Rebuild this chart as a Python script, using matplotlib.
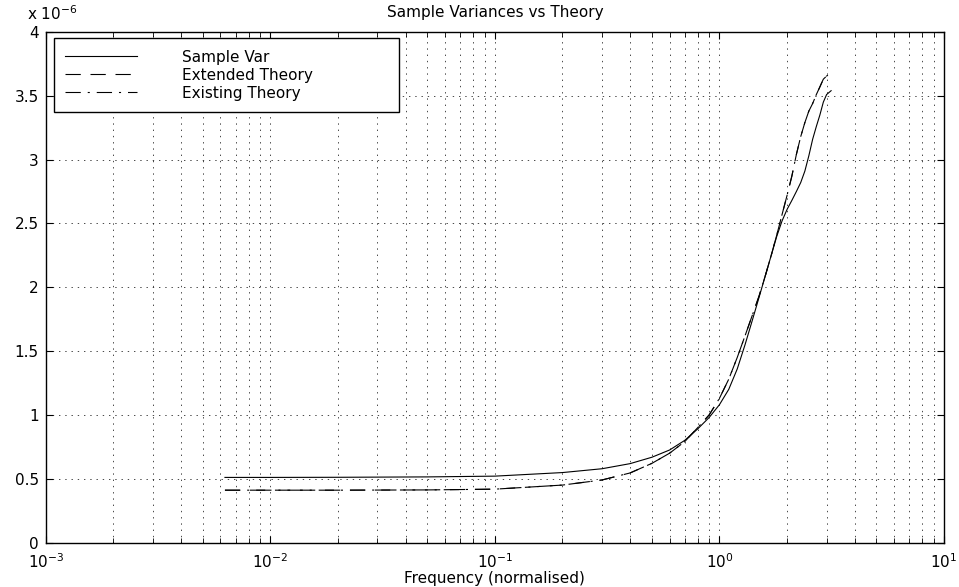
import matplotlib
matplotlib.use("Agg")
import matplotlib.pyplot as plt
from matplotlib.ticker import MultipleLocator, FuncFormatter, LogLocator, NullFormatter

plt.rcParams["font.family"] = "DejaVu Sans"
plt.rcParams["font.size"] = 11
plt.rcParams["lines.scale_dashes"] = False

# normalised frequency (rad/sample) and variances in units of 1e-6
freq = [0.00628, 0.01, 0.02, 0.05, 0.1, 0.2, 0.3, 0.4, 0.5, 0.6, 0.7, 0.8, 0.9,
        1.0, 1.1, 1.2, 1.3, 1.4, 1.5, 1.6, 1.7, 1.8, 1.9, 2.0, 2.1, 2.2, 2.3,
        2.4, 2.5, 2.6, 2.7, 2.8, 2.9, 3.0, 3.1416]
sampleVar = [0.510, 0.510, 0.511, 0.514, 0.520, 0.548, 0.578, 0.618, 0.668, 0.725,
             0.800, 0.890, 0.980, 1.08, 1.20, 1.36, 1.55, 1.74, 1.92, 2.09, 2.25,
             2.40, 2.52, 2.61, 2.68, 2.75, 2.82, 2.91, 3.03, 3.16, 3.26, 3.35,
             3.45, 3.51, 3.54]
extendedTheory = [0.410, 0.410, 0.410, 0.412, 0.418, 0.450, 0.490, 0.545, 0.620, 0.700,
                  0.790, 0.900, 1.00, 1.13, 1.28, 1.45, 1.62, 1.78, 1.93, 2.09, 2.25,
                  2.41, 2.57, 2.72, 2.87, 3.04, 3.18, 3.29, 3.38, 3.44, 3.51, 3.57,
                  3.63, 3.655, 3.677]
existingTheory = [0.410, 0.410, 0.410, 0.412, 0.418, 0.450, 0.490, 0.545, 0.620, 0.700,
                  0.790, 0.900, 1.00, 1.13, 1.28, 1.45, 1.62, 1.78, 1.93, 2.09, 2.25,
                  2.41, 2.57, 2.72, 2.87, 3.04, 3.18, 3.29, 3.38, 3.44, 3.51, 3.57,
                  3.63, 3.655, 3.677]
SCALE = 1e-6

fig = plt.figure(figsize=(9.59, 5.87), dpi=100)
ax = fig.add_axes([0.0477, 0.0758, 0.9367, 0.8697])

ax.plot(freq, [v * SCALE for v in sampleVar], color="k", lw=0.8, label="Sample Var")
ax.plot(freq, [v * SCALE for v in extendedTheory], color="k", lw=0.8,
        dashes=(11, 7), label="Extended Theory")
ax.plot(freq, [v * SCALE for v in existingTheory], color="k", lw=0.8,
        dashes=(11, 5, 1.5, 5), label="Existing Theory")

ax.set_xscale("log")
ax.set_xlim(1e-3, 10)
ax.set_ylim(0, 4e-6)
ax.yaxis.set_major_locator(MultipleLocator(0.5e-6))
ax.yaxis.set_major_formatter(FuncFormatter(lambda y, _: "%g" % round(y / SCALE, 2)))
ax.xaxis.set_minor_locator(LogLocator(base=10, subs=range(2, 10), numticks=20))
ax.xaxis.set_minor_formatter(NullFormatter())

ax.tick_params(which="both", direction="in", top=True, right=True)
ax.tick_params(which="major", length=5, width=0.8, pad=5)
ax.tick_params(axis="x", which="major", pad=7)
ax.tick_params(which="minor", length=3.5, width=0.6)
gridStyle = dict(color="k", lw=0.5, linestyle=(0, (1, 3.5)))
ax.grid(True, which="major", axis="both", **gridStyle)
ax.grid(True, which="minor", axis="x", **gridStyle)
for s in ax.spines.values():
    s.set_linewidth(1.0)

ax.set_title("Sample Variances vs Theory", fontsize=11, pad=11)
ax.set_xlabel("Frequency (normalised)", labelpad=0)
fig.text(0.028, 0.966, "x 10$^{-6}$", fontsize=11)

leg = ax.legend(loc="upper left", bbox_to_anchor=(0.0092, 0.988, 0.384, 0),
                mode="expand", borderaxespad=0, fancybox=False, framealpha=1,
                edgecolor="k", handlelength=4.7, handletextpad=2.9,
                labelspacing=0.2, borderpad=0.75)
leg.get_frame().set_linewidth(1.0)

fig.savefig("out.png", dpi=100)
